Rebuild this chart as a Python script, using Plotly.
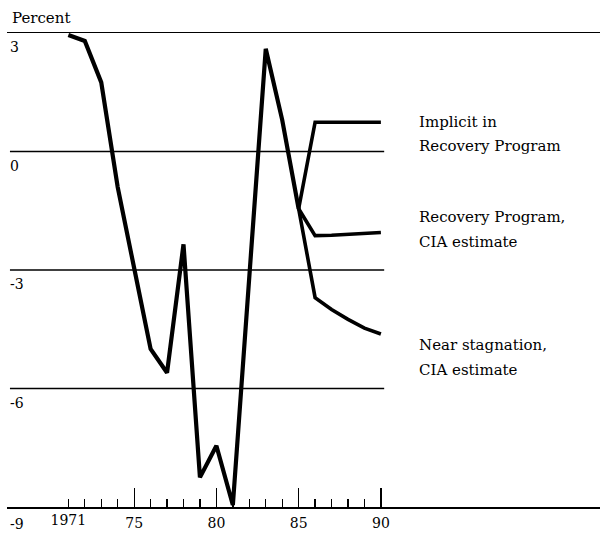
import plotly.graph_objects as go

# ---- data ----
years_hist = [1971, 1972, 1973, 1974, 1975, 1976, 1977, 1978, 1979, 1980,
              1981, 1982, 1983, 1984, 1985]
growth_hist = [2.95, 2.8, 1.75, -0.9, -2.95, -5.0, -5.6, -2.35, -8.25, -7.45,
               -8.95, -3.2, 2.6, 0.8, -1.45]

years_proj = [1985, 1986, 1987, 1988, 1989, 1990]
implicit_recovery = [-1.45, 0.74, 0.74, 0.74, 0.74, 0.74]
recovery_cia = [-1.45, -2.13, -2.12, -2.10, -2.08, -2.05]
near_stagnation = [-1.45, -3.7, -4.0, -4.25, -4.47, -4.62]

major_years = [1975, 1980, 1985, 1990]
major_labels = ["75", "80", "85", "90"]
minor_years = [y for y in range(1971, 1990) if y not in major_years]
first_year_label = ["1971"]

y_ticks = [3, 0, -3, -6, -9]
y_tick_labels = ["3", "0", "-3", "-6", "-9"]
inner_grid = [0, -3, -6]

series_labels = [
    ("Implicit in", 0.74),
    ("Recovery Program", 0.13),
    ("Recovery Program,", -1.65),
    ("CIA estimate", -2.3),
    ("Near stagnation,", -4.9),
    ("CIA estimate", -5.52),
]

# ---- style ----
FONT = "DejaVu Serif"
INK = "black"
X_RANGE = [1967.27, 2003.32]
Y_RANGE = [-9, 3]
GRID_X0 = 1967.45
GRID_X1 = 1990.2

fig = go.Figure()

fig.add_trace(go.Scatter(x=years_hist, y=growth_hist, mode="lines", xaxis="x2",
                         line=dict(color=INK, width=4.2), hoverinfo="skip"))
fig.add_trace(go.Scatter(x=years_proj, y=implicit_recovery, mode="lines",
                         line=dict(color=INK, width=3.6), hoverinfo="skip"))
fig.add_trace(go.Scatter(x=years_proj, y=recovery_cia, mode="lines",
                         line=dict(color=INK, width=3.6), hoverinfo="skip"))
fig.add_trace(go.Scatter(x=years_proj, y=near_stagnation, mode="lines",
                         line=dict(color=INK, width=3.6), hoverinfo="skip"))

for g in inner_grid:
    fig.add_shape(type="line", xref="x", yref="y", x0=GRID_X0, x1=GRID_X1,
                  y0=g, y1=g, line=dict(color=INK, width=1.3), layer="below")

for text, yv in series_labels:
    fig.add_annotation(text=text, xref="paper", yref="y", x=(417 - 7) / 593,
                       y=yv, xanchor="left", yanchor="middle", showarrow=False,
                       font=dict(family=FONT, size=15, color=INK))

# y-axis value labels sit just under each horizontal rule, at the left edge
for v, t in zip(y_ticks, y_tick_labels):
    fig.add_annotation(text=t, xref="paper", yref="y", x=(8 - 7) / 593, y=v,
                       xanchor="left", yanchor="top", yshift=-4 if v > -9 else -7,
                       showarrow=False,
                       font=dict(family=FONT, size=14, color=INK))

fig.add_annotation(text="Percent", xref="paper", yref="paper",
                   x=(10 - 7) / 593, y=1.0, xanchor="left", yanchor="bottom",
                   yshift=4, showarrow=False,
                   font=dict(family=FONT, size=15, color=INK))

tick_font = dict(family=FONT, size=14, color=INK)

fig.update_layout(
    width=600, height=533,
    margin=dict(l=7, r=0, t=33, b=26, pad=0),
    paper_bgcolor="white", plot_bgcolor="white",
    showlegend=False,
    font=dict(family=FONT, size=14, color=INK),
    xaxis=dict(
        range=X_RANGE, showgrid=False, zeroline=False,
        showline=True, linecolor=INK, linewidth=1.5, mirror=True,
        tickmode="array", tickvals=major_years, ticktext=major_labels,
        ticks="inside", ticklen=19, tickwidth=1.3, tickcolor=INK,
        minor=dict(tickmode="array", tickvals=minor_years, ticks="inside",
                   ticklen=8, tickwidth=1.3, tickcolor=INK, showgrid=False),
        tickfont=tick_font, ticklabelstandoff=3,
    ),
    xaxis2=dict(
        range=X_RANGE, overlaying="x", anchor="y", side="bottom",
        showgrid=False, zeroline=False, showline=False,
        tickmode="array", tickvals=[1971], ticktext=first_year_label,
        ticks="", tickfont=tick_font, ticklabelstandoff=3,
    ),
    yaxis=dict(
        range=Y_RANGE, showgrid=False, zeroline=False, showline=False,
        showticklabels=False, ticks="",
    ),
)

fig.write_html(
    "out.html",
    config={"displayModeBar": False, "staticPlot": True},
    post_script="document.body.style.margin='0';document.body.style.overflow='hidden';",
)
